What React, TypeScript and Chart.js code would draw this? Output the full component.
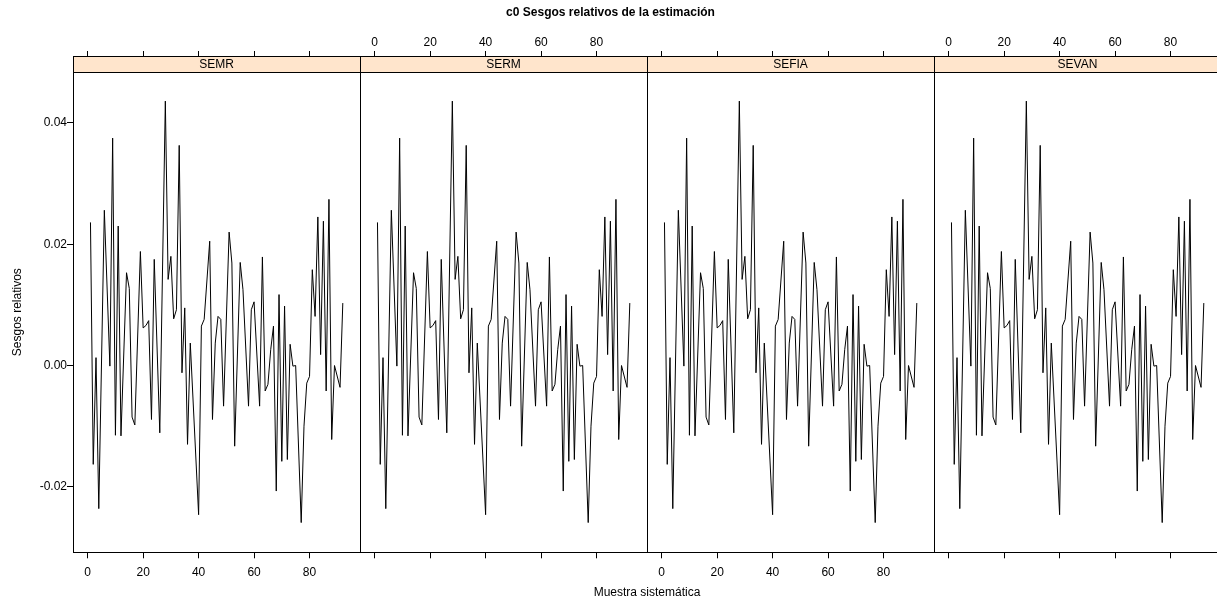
import { useEffect, useRef } from 'react';
import { Chart, registerables } from 'chart.js';

Chart.register(...registerables);

const titleText = 'c0 Sesgos relativos de la estimación';
const xTitle = 'Muestra sistemática';
const yTitle = 'Sesgos relativos';
const panelNames = ['SEMR', 'SERM', 'SEFIA', 'SEVAN'];
const xTicks = [0, 20, 40, 60, 80];
const yTicks = [-0.02, 0, 0.02, 0.04];

const sampleX = [
  1, 2, 3, 4, 6, 8, 9, 10, 11, 12, 14, 15, 16, 17, 19, 20, 21, 22, 23, 24,
  26, 28, 29, 30, 31, 32, 33, 34, 35, 36, 37, 40, 41, 42, 44, 45, 46, 47, 48, 49,
  51, 52, 53, 55, 56, 58, 59, 60, 62, 63, 64, 65, 66, 67, 68, 69, 70, 71, 72, 73,
  74, 75, 77, 78, 79, 80, 81, 82, 83, 84, 85, 86, 87, 88, 89, 91, 92,
];
const relBias = [
  0.0236, -0.0163, 0.0013, -0.0236, 0.0256, -0.0001, 0.0375, -0.0115, 0.0230, -0.0116,
  0.0153, 0.0127, -0.0085, -0.0098, 0.0188, 0.0062, 0.0066, 0.0074, -0.0089, 0.0175,
  -0.0111, 0.0436, 0.0142, 0.0180, 0.0077, 0.0092, 0.0363, -0.0012, 0.0095, -0.0130,
  0.0037, -0.0246, 0.0065, 0.0076, 0.0205, -0.0089, 0.0037, 0.0081, 0.0076, -0.0067,
  0.0220, 0.0169, -0.0133, 0.0170, 0.0125, -0.0067, 0.0092, 0.0105, -0.0067, 0.0179,
  -0.0042, -0.0031, 0.0026, 0.0065, -0.0207, 0.0117, -0.0158, 0.0098, -0.0155, 0.0035,
  -0.0001, 0.0000, -0.0259, -0.0100, -0.0029, -0.0018, 0.0158, 0.0081, 0.0245, 0.0018,
  0.0238, -0.0042, 0.0274, -0.0122, 0.0000, -0.0036, 0.0103,
];

const X_MIN = -5.3;
const X_MAX = 98.2;
const Y_MIN = -0.0308;
const Y_MAX = 0.0484;

const FONT = "'Liberation Sans', Arial, Helvetica, sans-serif";

const panelPlugin = {
  id: 'latticePanels',
  afterDraw(chart: any) {
    const { ctx, chartArea } = chart;
    const top = Math.round(chartArea.top);
    const stripTop = top - 16;
    ctx.save();
    ctx.lineWidth = 1;
    ctx.strokeStyle = '#000';
    panelNames.forEach((name, k) => {
      const s = chart.scales[`x${k}b`];
      const l = Math.round(s.left);
      const r = Math.round(s.right);
      ctx.fillStyle = '#FFE5CC';
      ctx.fillRect(l, stripTop, r - l, top - stripTop);
      ctx.beginPath();
      ctx.moveTo(l, stripTop + 0.5);
      ctx.lineTo(r, stripTop + 0.5);
      ctx.moveTo(l, top + 0.5);
      ctx.lineTo(r, top + 0.5);
      ctx.moveTo(l + 0.5, stripTop);
      ctx.lineTo(l + 0.5, chartArea.bottom);
      ctx.moveTo(r + 0.5, stripTop);
      ctx.lineTo(r + 0.5, chartArea.bottom);
      ctx.stroke();
      ctx.fillStyle = '#000';
      ctx.font = `12px ${FONT}`;
      ctx.textAlign = 'center';
      ctx.textBaseline = 'middle';
      ctx.fillText(name, (l + r) / 2, (stripTop + top) / 2 + 1);
    });
    ctx.restore();
  },
};

function buildScales() {
  const scales: any = {};
  panelNames.forEach((_, k) => {
    scales[`x${k}b`] = {
      type: 'linear',
      position: 'bottom',
      stack: 'bot',
      weight: k + 1,
      min: X_MIN,
      max: X_MAX,
      afterBuildTicks: (s: any) => {
        s.ticks = xTicks.map((v) => ({ value: v }));
      },
      afterFit: (s: any) => {
        s.height = 25;
      },
      ticks: {
        display: k % 2 === 0,
        padding: 7,
        color: '#000',
        maxRotation: 0,
        autoSkip: false,
        callback: (v: any) => String(v),
      },
      grid: { drawOnChartArea: false, drawTicks: true, tickLength: 6, color: '#000' },
      border: { display: true, color: '#000' },
    };
  });
  panelNames.forEach((_, k) => {
    scales[`x${k}t`] = {
      type: 'linear',
      position: 'top',
      stack: 'top',
      weight: 4 - k,
      min: X_MIN,
      max: X_MAX,
      afterBuildTicks: (s: any) => {
        s.ticks = xTicks.map((v) => ({ value: v }));
      },
      afterFit: (s: any) => {
        s.height = 47.6;
      },
      ticks: {
        display: k % 2 === 1,
        padding: 1,
        color: '#000',
        maxRotation: 0,
        autoSkip: false,
        callback: (v: any) => String(v),
      },
      grid: { drawOnChartArea: false, drawTicks: true, tickLength: 21, color: '#000' },
      border: { display: true, color: '#000' },
    };
  });
  scales.xT = {
    type: 'linear',
    position: 'bottom',
    weight: 10,
    ticks: { display: false },
    grid: { display: false },
    border: { display: false },
    title: { display: true, text: xTitle, color: '#000', padding: { top: 0, bottom: 6 }, font: { size: 12 } },
    afterFit: (s: any) => {
      s.height = 28.7;
    },
  };
  scales.y = {
    type: 'linear',
    position: 'left',
    min: Y_MIN,
    max: Y_MAX,
    afterBuildTicks: (s: any) => {
      s.ticks = yTicks.map((v) => ({ value: v }));
    },
    afterFit: (s: any) => {
      s.width = 73;
    },
    ticks: {
      padding: 0,
      color: '#000',
      callback: (v: any) => Number(v).toFixed(2),
    },
    grid: { drawOnChartArea: false, drawTicks: true, tickLength: 6, color: '#000' },
    border: { display: true, color: '#000' },
    title: { display: true, text: yTitle, color: '#000', padding: { top: 10, bottom: 0 }, font: { size: 12 } },
  };
  return scales;
}

export default function App() {
  const canvasRef = useRef<HTMLCanvasElement | null>(null);

  useEffect(() => {
    const canvas = canvasRef.current;
    if (!canvas) return;
    Chart.defaults.font.family = FONT;
    Chart.defaults.font.size = 12;
    Chart.defaults.color = '#000';
    const points = sampleX.map((x, i) => ({ x, y: relBias[i] }));
    const chart = new Chart(canvas, {
      type: 'line',
      data: {
        datasets: panelNames.map((name, k) => ({
          label: name,
          data: points,
          xAxisID: `x${k}b`,
          yAxisID: 'y',
          borderColor: '#000',
          borderWidth: 1,
          pointRadius: 0,
          tension: 0,
          fill: false,
        })),
      },
      options: {
        responsive: false,
        animation: false,
        layout: { padding: 0 },
        plugins: {
          legend: { display: false },
          tooltip: { enabled: false },
          title: {
            display: true,
            text: titleText,
            color: '#000',
            font: { size: 12, weight: 'bold' },
            padding: { top: 5, bottom: 5 },
          },
        },
        scales: buildScales(),
      },
      plugins: [panelPlugin],
    } as any);
    return () => chart.destroy();
  }, []);

  return (
    <div
      style={{
        position: 'fixed',
        left: 0,
        top: 0,
        width: 1217,
        height: 606,
        overflow: 'hidden',
        background: '#fff',
      }}
    >
      <canvas ref={canvasRef} width={1221} height={606} style={{ display: 'block', width: 1221, height: 606 }} />
    </div>
  );
}
